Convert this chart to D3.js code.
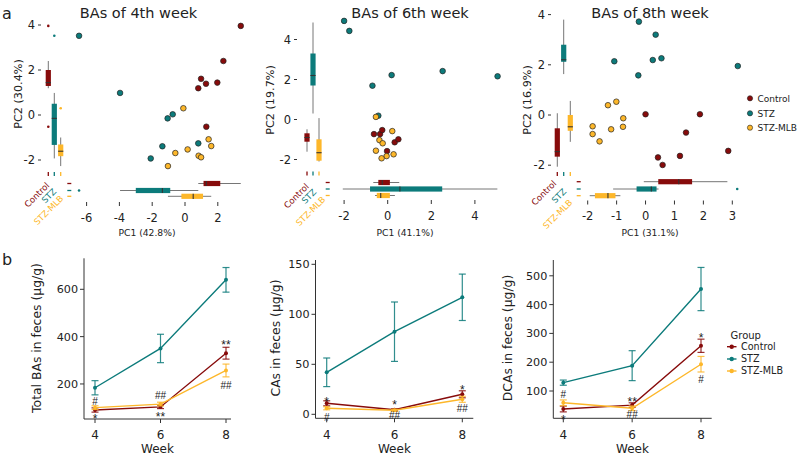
<!DOCTYPE html>
<html><head><meta charset="utf-8">
<script src="https://cdn.jsdelivr.net/npm/d3@7"></script>
<style>body{margin:0;background:#fff} svg{display:block} text{font-family:"DejaVu Sans",sans-serif;fill:#222}</style>
</head><body><svg id="c" width="798" height="455"></svg>
<script>
// ---------- DATA ----------
const groups = ["Control", "STZ", "STZ-MLB"];
const groupColors = ["#870b0b", "#0c7b7b", "#fdb72a"];

// PCA scores [PC1, PC2]
const w4Control = [[3.4,3.96],[2.34,2.4],[0.98,1.61],[0.81,1.19],[1.28,1.39],[1.97,1.44],[1.3,-0.52]];
const w4STZ     = [[-6.46,3.52],[-3.96,0.98],[-1.06,-0.15],[-0.75,0.03],[-1.38,-1.39],[-2.09,-1.93],[0.81,-1.26]];
const w4MLB     = [[-0.1,0.3],[1.44,-1.08],[1.6,-1.38],[0.16,-1.53],[-0.59,-1.69],[0.83,-1.81],[0.98,-1.88],[-1.04,-2.27]];
const w6Control = [[-0.63,-0.73],[-0.35,-0.73],[-0.25,-0.53],[0.32,-1.14],[0.49,-0.99],[-0.03,-1.58]];
const w6STZ     = [[-2.0,4.93],[-1.76,4.43],[0.18,2.22],[2.52,2.42],[5.04,2.16],[-0.7,1.69],[-0.43,0.19]];
const w6MLB     = [[-0.54,0.13],[0.21,-0.58],[-0.38,-1.03],[-0.23,-1.19],[-0.54,-1.56],[-0.05,-1.83],[-0.28,-1.94],[0.27,-1.74]];
const w8Control = [[0,0.03],[1.88,0.03],[1.4,-0.7],[1.19,-1.63],[0.43,-1.69],[0.59,-1.99],[2.86,-1.43]];
const w8STZ     = [[-0.23,3.72],[0.35,3.2],[-1.08,2.14],[0.25,2.19],[0.55,2.26],[-0.25,1.58],[3.19,1.95]];
const w8MLB     = [[-1.01,0.53],[-1.3,0.39],[-0.77,-0.13],[-0.78,-0.47],[-1.83,-0.45],[-1.83,-0.76],[-1.19,-0.57],[-1.59,-1.05]];

// Marginal box stats [lowWhisker, q1, median, q3, highWhisker] per group
const w4BoxPC1 = [[0.81,1.13,1.3,2.15,3.4],[-3.96,-3.0,-1.38,-0.9,0.81],[-1.04,-0.22,0.5,1.1,1.6]];
const w4BoxPC2 = [[1.19,1.29,1.44,2.0,2.4],[-1.93,-1.33,-0.15,0.5,0.98],[-2.27,-1.83,-1.61,-1.31,-1.0]];
const w4OutPC1 = [[],[-6.46],[]];
const w4OutPC2 = [[3.96,-0.52],[3.52],[0.3]];
const w6BoxPC1 = [[-0.66,-0.43,-0.25,0.1,0.53],[-2.06,-0.81,0.56,2.5,5.03],[-0.58,-0.5,-0.32,0.1,0.33]];
const w6BoxPC2 = [[-1.61,-1.11,-0.9,-0.69,-0.49],[0.3,1.7,2.2,3.3,4.85],[-2.1,-2.06,-1.66,-0.99,0.07]];
const w6OutPC1 = [[],[],[]];
const w6OutPC2 = [[],[],[]];
const w8BoxPC1 = [[-0.06,0.44,1.15,1.61,2.83],[-1.12,-0.31,0.2,0.38,0.45],[-1.93,-1.75,-1.3,-1.04,-0.87]];
const w8BoxPC2 = [[-2.06,-1.66,-1.46,-0.53,0.07],[1.63,2.12,2.2,2.8,3.8],[-1.07,-0.63,-0.47,0.0,0.56]];
const w8OutPC1 = [[],[3.17],[]];
const w8OutPC2 = [[],[],[]];

const pcaTitles = ["BAs of 4th week", "BAs of 6th week", "BAs of 8th week"];
const pc1Labels = ["PC1 (42.8%)", "PC1 (41.1%)", "PC1 (31.1%)"];
const pc2Labels = ["PC2 (30.4%)", "PC2 (19.7%)", "PC2 (16.9%)"];
const pc1Ticks = [[-6,-4,-2,0,2], [-2,0,2,4], [-2,-1,0,1,2,3]];
const pc2Ticks = [[-2,0,2,4], [-2,0,2,4], [-2,0,2,4]];

// Line charts: mean and error per group (Control, STZ, STZ-MLB) at weeks
const weeks = [4, 6, 8];
const totalMean = [[90,103,330],[184,350,640],[100,115,257]];
const totalErr  = [[9,7,25],[30,60,52],[8,8,27]];
const caMean = [[11,4.5,20],[42,82.6,117],[6,4,15]];
const caErr  = [[2.5,1,3.5],[14.3,29.7,23.2],[1.5,1,3]];
const dcaMean = [[37.5,51,257],[129,188,454],[59,40,193]];
const dcaErr  = [[10,8,23],[9,52,75],[10,8,27]];
const lineYTitles = ["Total BAs in feces (\u03bcg/g)", "CAs in feces (\u03bcg/g)", "DCAs in feces (\u03bcg/g)"];
const lineYTicks = [[200,400,600],[0,50,100,150],[100,200,300,400,500]];
// significance marks [week, value, label]
const totalSig = [[4,125,"#"],[4,65,"*"],[6,153,"##"],[6,76,"**"],[8,381,"**"],[8,196,"##"]];
const caSig = [[4,16,"*"],[4,-3,"#"],[6,13,"*"],[6,-1.5,"##"],[8,27.6,"*"],[8,6,"##"]];
const dcaSig = [[4,88,"#"],[4,11,"*"],[6,75,"**"],[6,19,"##"],[8,297,"*"],[8,142,"#"]];

// ---------- LAYOUT ----------
const pcaLayout = [
  {xd:[-6,2], xr:[86.6,217.8], yd:[-2,4], yr:[160,25], yTickX:41, xTickY:202, vbX:[48.3,54.3,60.7], hbY:[183.5,190.5,196.3], vbTickY:174, hbTickX:69.3, lab:[[50,186],[57,192],[64,199]], titleX:138.5, xTitle:[147,232], yTitle:[18,94]},
  {xd:[-2,4], xr:[344.1,474.9], yd:[-2,4], yr:[159.5,39.5], yTickX:297, xTickY:200, vbX:[307,313,319], hbY:[182.5,189,195.5], vbTickY:173.5, hbTickX:327.7, lab:[[309.5,187],[317,192.5],[326,200]], titleX:410, xTitle:[405,232], yTitle:[270,100]},
  {xd:[-2,3], xr:[587.7,732.3], yd:[-2,4], yr:[165.2,14.6], yTickX:551, xTickY:200.5, vbX:[557.3,563.7,570.3], hbY:[181.7,189,195.7], vbTickY:174, hbTickX:578.7, lab:[[557,184],[567,192],[573,203]], titleX:650, xTitle:[650,232], yTitle:[527,100]}
];
const lineLayout = [
  {xr:[95,226], axX:[84,231], yd:[0,600], yr:[431.3,289.3], axY:[258.3,419], yTitle:[37,338]},
  {xr:[326.7,462.3], axX:[315.5,473.3], yd:[0,150], yr:[414.3,264.3], axY:[260,418.3], yTitle:[276,338]},
  {xr:[563.3,701], axX:[553.3,711.7], yd:[0,500], yr:[419.8,275.8], axY:[260,418.3], yTitle:[508,338]}
];

const svg = d3.select("#c");
const axisCol = "#333";

svg.append("text").attr("x",2).attr("y",19).style("font-size","16px").text("a");
svg.append("text").attr("x",2).attr("y",265).style("font-size","16px").text("b");

const pcaPts = [[w4Control,w4STZ,w4MLB],[w6Control,w6STZ,w6MLB],[w8Control,w8STZ,w8MLB]];
const boxPC1 = [w4BoxPC1,w6BoxPC1,w8BoxPC1], boxPC2 = [w4BoxPC2,w6BoxPC2,w8BoxPC2];
const outPC1 = [w4OutPC1,w6OutPC1,w8OutPC1], outPC2 = [w4OutPC2,w6OutPC2,w8OutPC2];

pcaLayout.forEach((L, i) => {
  const g = svg.append("g");
  const x = d3.scaleLinear().domain(L.xd).range(L.xr);
  const y = d3.scaleLinear().domain(L.yd).range(L.yr);
  g.append("text").attr("x",L.titleX).attr("y",17.5).attr("text-anchor","middle").style("font-size","14.5px").text(pcaTitles[i]);
  // y ticks
  pc2Ticks[i].forEach(t => {
    g.append("line").attr("x1",L.yTickX-3).attr("x2",L.yTickX).attr("y1",y(t)).attr("y2",y(t)).attr("stroke",axisCol);
    g.append("text").attr("x",L.yTickX-6).attr("y",y(t)).attr("dy","0.36em").attr("text-anchor","end").style("font-size","11.5px").text(t);
  });
  pc1Ticks[i].forEach(t => {
    g.append("line").attr("x1",x(t)).attr("x2",x(t)).attr("y1",L.xTickY).attr("y2",L.xTickY+4).attr("stroke",axisCol);
    g.append("text").attr("x",x(t)).attr("y",L.xTickY+19.5).attr("text-anchor","middle").style("font-size","11.5px").text(t);
  });
  g.append("text").attr("x",L.xTitle[0]).attr("y",L.xTitle[1]+3.5).attr("text-anchor","middle").style("font-size","9.2px").text(pc1Labels[i]);
  g.append("text").attr("transform",`translate(${L.yTitle[0]},${L.yTitle[1]}) rotate(-90)`).attr("dy","0.35em").attr("text-anchor","middle").style("font-size","11.2px").text(pc2Labels[i]);

  groups.forEach((grp, k) => {
    const col = groupColors[k];
    // vertical box (PC2)
    const s = boxPC2[i][k], bx = L.vbX[k];
    g.append("line").attr("x1",bx).attr("x2",bx).attr("y1",y(s[0])).attr("y2",y(s[4])).attr("stroke","#666").attr("stroke-width",0.9);
    g.append("rect").attr("x",bx-2.6).attr("width",5.2).attr("y",y(s[3])).attr("height",y(s[1])-y(s[3])).attr("fill",col);
    g.append("line").attr("x1",bx-2.6).attr("x2",bx+2.6).attr("y1",y(s[2])).attr("y2",y(s[2])).attr("stroke","#333").attr("stroke-width",1.1);
    outPC2[i][k].forEach(o => g.append("circle").attr("cx",bx).attr("cy",y(o)).attr("r",1.3).attr("fill",col));
    // horizontal box (PC1)
    const h = boxPC1[i][k], by = L.hbY[k];
    g.append("line").attr("y1",by).attr("y2",by).attr("x1",x(h[0])).attr("x2",x(h[4])).attr("stroke","#666").attr("stroke-width",0.9);
    g.append("rect").attr("y",by-2.6).attr("height",5.2).attr("x",x(h[1])).attr("width",x(h[3])-x(h[1])).attr("fill",col);
    g.append("line").attr("y1",by-2.6).attr("y2",by+2.6).attr("x1",x(h[2])).attr("x2",x(h[2])).attr("stroke","#333").attr("stroke-width",1.1);
    outPC1[i][k].forEach(o => g.append("circle").attr("cx",x(o)).attr("cy",by).attr("r",1.3).attr("fill",col));
    // colored ticks
    g.append("line").attr("x1",bx).attr("x2",bx).attr("y1",L.vbTickY-2).attr("y2",L.vbTickY+2).attr("stroke",col).attr("stroke-width",1.3);
    g.append("line").attr("x1",L.hbTickX-2).attr("x2",L.hbTickX+2).attr("y1",by).attr("y2",by).attr("stroke",col).attr("stroke-width",1.3);
    // rotated group label
    g.append("text").attr("transform",`translate(${L.lab[k][0]},${L.lab[k][1]}) rotate(-45)`).attr("text-anchor","end")
      .style("font-size","8.6px").style("fill",col).text(grp);
  });
  // points
  groups.forEach((grp, k) => {
    g.selectAll(null).data(pcaPts[i][k]).enter().append("circle")
      .attr("cx",d => x(d[0])).attr("cy",d => y(d[1])).attr("r",2.8)
      .attr("fill",groupColors[k]).attr("stroke","#222").attr("stroke-width",0.7);
  });
});

// top legend
groups.forEach((grp, k) => {
  const ly = [98.3,113.3,127.7][k];
  svg.append("circle").attr("cx",750).attr("cy",ly).attr("r",2.6).attr("fill",groupColors[k]).attr("stroke","#222").attr("stroke-width",0.6);
  svg.append("text").attr("x",757.5).attr("y",ly).attr("dy","0.36em").style("font-size","9px").text(grp);
});

// ---------- LINE CHARTS ----------
const lineMeans = [totalMean, caMean, dcaMean], lineErrs = [totalErr, caErr, dcaErr], lineSigs = [totalSig, caSig, dcaSig];
lineLayout.forEach((L, i) => {
  const g = svg.append("g");
  const x = d3.scaleLinear().domain([4,8]).range(L.xr);
  const y = d3.scaleLinear().domain(L.yd).range(L.yr);
  g.append("line").attr("x1",L.axX[0]).attr("x2",L.axX[0]).attr("y1",L.axY[0]).attr("y2",L.axY[1]).attr("stroke",axisCol);
  g.append("line").attr("x1",L.axX[0]).attr("x2",L.axX[1]).attr("y1",L.axY[1]).attr("y2",L.axY[1]).attr("stroke",axisCol);
  lineYTicks[i].forEach(t => {
    g.append("line").attr("x1",L.axX[0]-4).attr("x2",L.axX[0]).attr("y1",y(t)).attr("y2",y(t)).attr("stroke",axisCol);
    g.append("text").attr("x",L.axX[0]-6).attr("y",y(t)).attr("dy","0.36em").attr("text-anchor","end").style("font-size","11.2px").text(t);
  });
  weeks.forEach(t => {
    g.append("line").attr("x1",x(t)).attr("x2",x(t)).attr("y1",L.axY[1]).attr("y2",L.axY[1]+4).attr("stroke",axisCol);
    g.append("text").attr("x",x(t)).attr("y",439).attr("text-anchor","middle").style("font-size","12px").text(t);
  });
  g.append("text").attr("x",(L.axX[0]+L.axX[1])/2).attr("y",452.5).attr("text-anchor","middle").style("font-size","12px").text("Week");
  g.append("text").attr("transform",`translate(${L.yTitle[0]},${L.yTitle[1]}) rotate(-90)`).attr("dy","0.35em").attr("text-anchor","middle").style("font-size","12.4px").text(lineYTitles[i]);

  const line = d3.line().x((d,j) => x(weeks[j])).y(d => y(d));
  groups.forEach((grp, k) => {
    const col = groupColors[k], m = lineMeans[i][k], e = lineErrs[i][k];
    g.append("path").attr("d",line(m)).attr("fill","none").attr("stroke",col).attr("stroke-width",1.4);
    m.forEach((v, j) => {
      const cx = x(weeks[j]);
      g.append("line").attr("x1",cx).attr("x2",cx).attr("y1",y(v-e[j])).attr("y2",y(v+e[j])).attr("stroke",col).attr("stroke-width",1.2).attr("opacity",0.85);
      [v-e[j], v+e[j]].forEach(b => g.append("line").attr("x1",cx-3.5).attr("x2",cx+3.5).attr("y1",y(b)).attr("y2",y(b)).attr("stroke",col).attr("stroke-width",1.2).attr("opacity",0.85));
      g.append("circle").attr("cx",cx).attr("cy",y(v)).attr("r",2).attr("fill",col);
    });
  });
  lineSigs[i].forEach(s => {
    const star = s[2].startsWith("*");
    g.append("text").attr("x",x(s[0])).attr("y",y(s[1])).attr("dy", star ? "0.62em" : "0.36em").attr("text-anchor","middle")
      .style("font-size", star ? "12px" : "10px").style("font-family","Liberation Sans, Arial, sans-serif").text(s[2]);
  });
});

// bottom legend
svg.append("text").attr("x",730.5).attr("y",335).attr("dy","0.36em").style("font-size","10px").text("Group");
groups.forEach((grp, k) => {
  const ly = [346.7,359,371][k];
  svg.append("line").attr("x1",727).attr("x2",736.5).attr("y1",ly).attr("y2",ly).attr("stroke",groupColors[k]).attr("stroke-width",1.4);
  svg.append("circle").attr("cx",731.7).attr("cy",ly).attr("r",2.2).attr("fill",groupColors[k]);
  svg.append("text").attr("x",741).attr("y",ly).attr("dy","0.36em").style("font-size","9.6px").text(grp);
});
</script></body></html>
